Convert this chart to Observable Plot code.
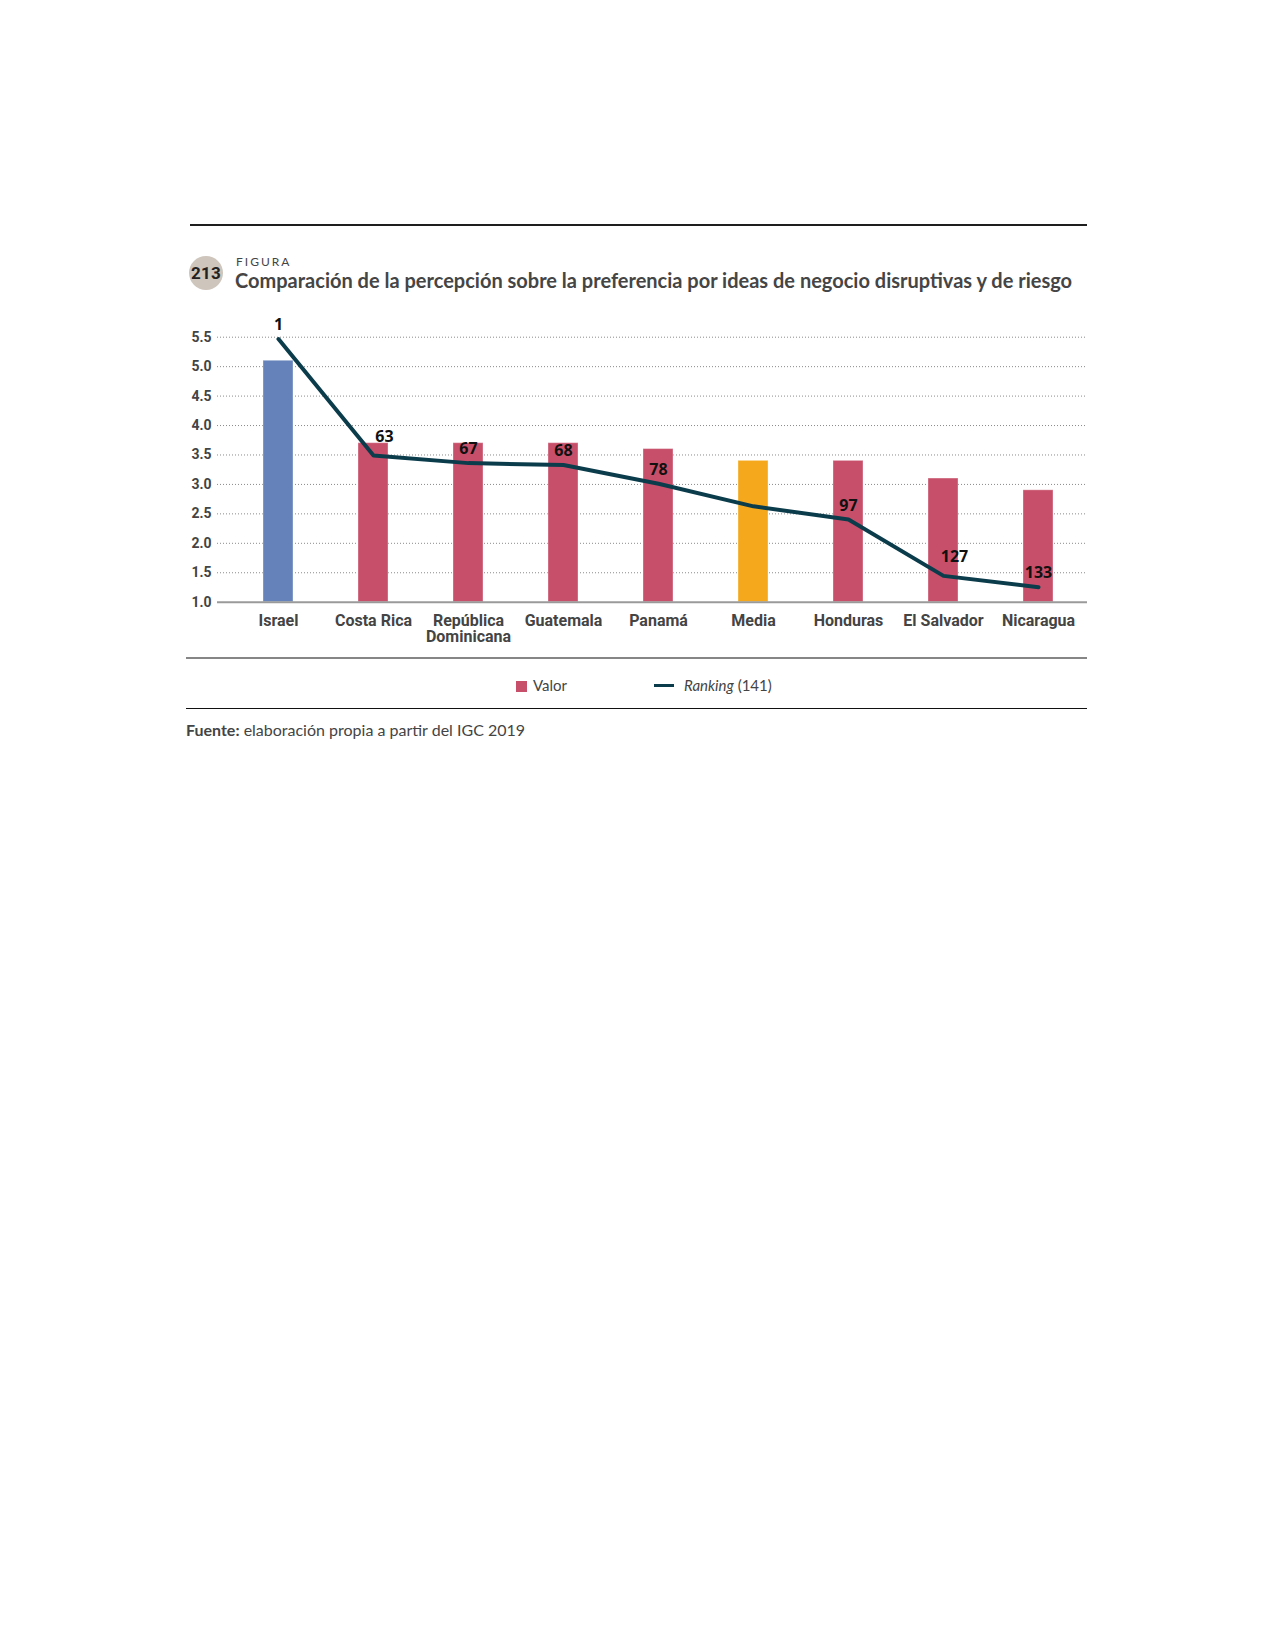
<!DOCTYPE html>
<html>
<head>
<meta charset="utf-8">
<script src="https://cdn.jsdelivr.net/npm/d3@7"></script>
<script src="https://cdn.jsdelivr.net/npm/@observablehq/plot@0.6"></script>
<style>
  html, body { margin: 0; padding: 0; background: #fff; }
  #page { position: relative; width: 1275px; height: 1651px; background: #fff; overflow: hidden; }
  .abs { position: absolute; }
  .rule-top { left: 190px; top: 224px; width: 897px; height: 1.5px; background: #1e1e1e; }
  .badge { left: 189px; top: 256px; width: 34px; height: 34px; border-radius: 50%; background: #cec5bc;
           font-family: Roboto, sans-serif; font-weight: 700; font-size: 17px; color: #222;
           display: flex; align-items: center; justify-content: center; letter-spacing: 0.3px; }
  .figura { left: 236px; top: 255px; font-family: Lato, sans-serif; font-size: 12px; line-height: 14px;
            letter-spacing: 2px; color: #444; }
  .title { left: 235px; top: 267px; font-family: Lato, sans-serif; font-weight: 700; font-size: 20px;
           line-height: 26px; color: #454545; white-space: nowrap; }
  #chart { left: 0; top: 290px; }
  .rule-gray { left: 186px; top: 656.5px; width: 901px; height: 2.2px; background: #868686; }
  .legend { top: 676px; height: 18px; font-family: Lato, sans-serif; font-size: 15px; line-height: 18px; color: #444; }
  .sq { display: inline-block; width: 11px; height: 11px; background: #c84f69; vertical-align: -1px; margin-right: 6px; }
  .ln { display: inline-block; width: 20px; height: 3.5px; background: #0b3c4c; vertical-align: 4px; margin-right: 10px; }
  .rule-black { left: 186px; top: 707.5px; width: 901px; height: 1.4px; background: #111; }
  .fuente { left: 186px; top: 720px; font-family: Lato, sans-serif; font-size: 16px; line-height: 20px; color: #444; }
</style>
</head>
<body>
<div id="page">
  <div class="abs rule-top"></div>
  <div class="abs badge">213</div>
  <div class="abs figura">FIGURA</div>
  <div class="abs title">Comparación de la percepción sobre la preferencia por ideas de negocio disruptivas y de riesgo</div>
  <div class="abs" id="chart"></div>
  <div class="abs rule-gray"></div>
  <div class="abs legend" style="left:516px;"><span class="sq"></span>Valor</div>
  <div class="abs legend" style="left:654px;"><span class="ln"></span><i>Ranking</i> (141)</div>
  <div class="abs rule-black"></div>
  <div class="abs fuente"><b>Fuente:</b> elaboración propia a partir del IGC 2019</div>
</div>
<script>
// ---- data ----
const countries = ["Israel", "Costa Rica", "República Dominicana", "Guatemala", "Panamá", "Media", "Honduras", "El Salvador", "Nicaragua"];
const valores = [5.1, 3.7, 3.7, 3.7, 3.6, 3.4, 3.4, 3.1, 2.9];
const rankings = [1, 63, 67, 68, 78, 90, 97, 127, 133];
const rankLabels = ["1", "63", "67", "68", "78", "", "97", "127", "133"];
const groups = ["Israel", "País", "País", "País", "País", "Media", "País", "País", "País"];
const yTicks = [1.0, 1.5, 2.0, 2.5, 3.0, 3.5, 4.0, 4.5, 5.0, 5.5];
const rankTotal = 141;

const data = countries.map((c, i) => ({
  country: c, valor: valores[i], rank: rankings[i], label: rankLabels[i], group: groups[i],
  // a label sits to the right of the point when the line drops steeply into it
  steep: i > 0 && rankings[i] - rankings[i - 1] > 25
}));

// secondary (ranking) axis mapped onto the value axis: rank 0 at top, 141 at bottom
const yMin = yTicks[0], yMax = yTicks[yTicks.length - 1];
const rankToY = d3.scaleLinear([0, rankTotal], [yMax, yMin]);

const labelStyle = { x: "country", y: d => rankToY(d.rank), text: "label",
  fontSize: 16, fontWeight: "bold", fill: "#111", fontFamily: "Noto Sans, sans-serif" };

const chart = Plot.plot({
  width: 1275,
  height: 360,
  marginLeft: 217,
  marginRight: 188,
  marginTop: 46.7,
  marginBottom: 48.3,
  x: { domain: countries, range: [231, 1086], paddingInner: 0.684, paddingOuter: 0.342, axis: null },
  y: { domain: [yMin, yMax], axis: null },
  color: { domain: ["Israel", "País", "Media"], range: ["#6583ba", "#c84f69", "#f5a81c"] },
  style: { fontFamily: "Roboto, sans-serif", background: "transparent", overflow: "visible" },
  marks: [
    Plot.ruleY(yTicks.slice(1), { stroke: "#8a8a8a", strokeWidth: 1, strokeDasharray: "1,2" }),
    Plot.barY(data, { x: "country", y1: yMin, y2: "valor", fill: "group", stroke: "#ffffff", strokeOpacity: 0.35, strokeWidth: 1 }),
    Plot.ruleY([yMin], { stroke: "#9a9a9a", strokeWidth: 2 }),
    Plot.line(data, { x: "country", y: d => rankToY(d.rank), stroke: "#0b3c4c", strokeWidth: 4 }),
    Plot.text(data.filter(d => !d.steep), { ...labelStyle, dy: -14, dx: 0 }),
    Plot.text(data.filter(d => d.steep), { ...labelStyle, dy: -19, dx: 11 }),
    Plot.axisY({ ticks: yTicks, tickFormat: d3.format(".1f"), tickSize: 0, tickPadding: 6, label: null,
      fontSize: 14, fontWeight: "bold", fill: "#444" }),
    Plot.axisX({ tickSize: 0, tickPadding: 12, label: null, fontSize: 16, fontWeight: "bold", fill: "#444", lineHeight: 1.0,
      tickFormat: d => d === "República Dominicana" ? "República\nDominicana" : d })
  ]
});
document.getElementById("chart").appendChild(chart);
</script>
</body>
</html>
